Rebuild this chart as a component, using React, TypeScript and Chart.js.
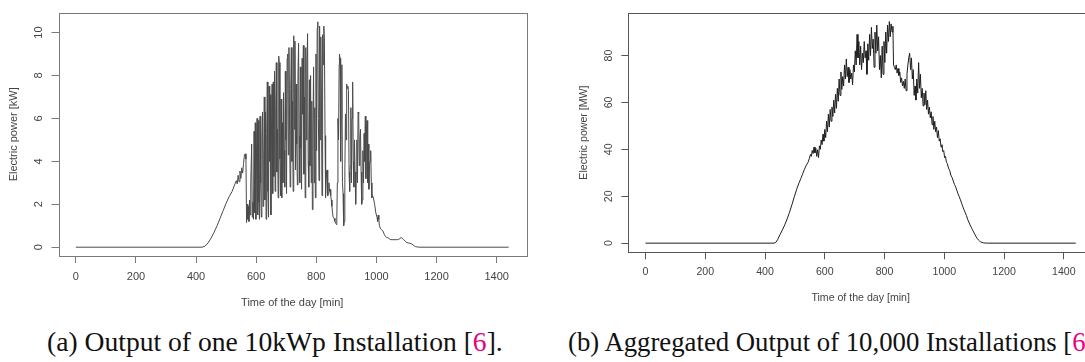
import React, { useEffect, useRef } from "react";
import { Chart, registerables } from "chart.js";

Chart.register(...registerables);

// ---------- data ----------
const xTickValues = [0, 200, 400, 600, 800, 1000, 1200, 1400];
const leftYTicks = [0, 2, 4, 6, 8, 10];
const rightYTicks = [0, 20, 40, 60, 80];

// (a) one 10 kWp installation: minute of the day, kW
const leftMinutes = [
  0, 420, 430, 440, 450, 460, 470, 480, 490, 500, 510, 520, 528, 534, 537, 540, 543, 546, 549, 552, 555, 558, 561, 564, 566,
  568, 570, 572, 574, 576, 578, 580, 582, 585, 587, 589, 591, 593, 595, 597, 599, 601, 603, 605, 607, 609, 611, 613, 615, 617, 619,
  621, 623, 625, 627, 629, 631, 633, 635, 637, 639, 641, 643, 645, 647, 649, 651, 653, 655,
  657, 659, 661, 663, 665, 667, 669, 671, 673, 675, 677, 679, 681, 683, 685, 687, 689, 691, 693, 695, 697, 699, 701, 703, 705,
  707, 709, 711, 713, 715, 717, 719, 721, 723, 725, 727, 729, 731, 733, 735,
  737, 739, 741, 743, 745, 747, 749, 751, 753, 755, 757, 759, 761, 763, 765, 767, 769, 771, 773, 775, 777, 779, 781, 783, 785,
  787, 789, 791, 793, 795, 797, 799, 801, 803, 805, 807, 809, 811, 813, 815, 817, 819, 821, 823, 825, 827, 829, 830,
  832, 834, 836, 838, 840, 842, 844, 846, 848, 850, 852, 854, 856, 859, 862, 865, 868, 870, 872, 874, 876, 877, 879, 881, 883,
  885, 887, 889, 891, 893, 895, 897, 899, 901, 903, 905, 907, 909, 911, 913, 915, 917, 919, 921, 923, 925, 927, 929, 931, 933,
  935, 937, 939, 941, 943, 945, 947, 949, 951, 953, 955, 957, 959, 961, 963, 965, 967, 969, 971, 973, 975, 977, 979, 981, 983,
  985, 987, 990, 994, 998, 1002, 1004, 1006, 1008, 1010, 1014, 1018, 1022, 1026, 1030, 1034, 1038, 1042, 1048, 1055, 1062,
  1070, 1076, 1082, 1086, 1090, 1095, 1100, 1106, 1112, 1118, 1124, 1130, 1136, 1145, 1440,
];
const leftPower = [
  0, 0, 0.05, 0.2, 0.42, 0.7, 1.0, 1.35, 1.7, 2.05, 2.35, 2.6, 2.9, 3.1, 2.95, 3.35, 3.05, 3.55, 3.2, 3.7, 3.45, 3.9, 4.3, 4.35, 4.1,
  1.15, 2.0, 1.3, 1.9, 1.2, 2.2, 1.5, 3.0, 4.8, 1.4, 2.1, 1.3, 5.4, 1.6, 5.8, 1.3, 4.2, 6.0, 1.5, 5.9, 2.1, 1.3, 6.1, 3.0, 1.4, 5.0,
  6.3, 1.9, 4.1, 7.0, 2.2, 6.3, 1.3, 5.3, 7.7, 2.6, 1.4, 7.5, 4.0, 7.1, 1.5, 5.6, 7.6, 2.5,
  7.7, 3.3, 8.2, 2.6, 6.6, 8.6, 3.5, 5.5, 2.3, 8.9, 8.6, 4.1, 2.4, 6.9, 2.3, 5.8, 3.0, 7.2, 4.5, 2.8, 8.2, 5.0, 2.5, 8.8, 9.0,
  4.3, 9.3, 6.0, 2.8, 7.4, 9.3, 4.0, 6.8, 2.6, 9.85, 5.5, 9.6, 3.6, 7.6, 4.8,
  2.9, 8.0, 9.5, 5.2, 3.0, 8.4, 4.6, 2.7, 8.8, 6.2, 9.4, 3.4, 7.0, 2.3, 9.3, 5.0, 8.5, 9.95, 4.0, 2.8, 7.8, 3.8, 8.0, 3.0, 6.8,
  1.75, 5.6, 8.4, 3.0, 6.5, 2.3, 9.0, 4.5, 10.2, 10.5, 6.0, 3.1, 10.3, 5.0, 9.8, 7.0, 2.4, 9.9, 8.5, 10.3, 9.6, 5.2, 2.3,
  2.5, 3.5, 3.6, 2.4, 2.5, 3.0, 2.6, 2.7, 2.4, 2.2, 1.9, 1.6, 1.4, 1.35, 1.2, 1.1, 1.05, 3.0, 6.0, 5.0, 8.5, 9.0, 8.8, 4.0, 6.0,
  8.5, 3.0, 2.5, 1.0, 1.2, 3.5, 6.2, 5.0, 7.6, 7.4, 7.5, 7.3, 3.5, 2.6, 3.8, 6.5, 3.0, 6.0, 7.7, 4.0, 2.8, 5.0, 3.5, 2.0, 3.5,
  5.0, 3.0, 6.3, 6.2, 3.8, 5.0, 5.5, 3.5, 2.0, 2.2, 4.5, 3.0, 5.3, 4.0, 6.1, 3.2, 5.6, 5.9, 3.0, 4.8, 2.7, 3.8, 4.0, 4.5, 3.0,
  2.3, 2.4, 2.3, 2.0, 1.6, 1.4, 1.2, 1.5, 1.3, 1.0, 0.85, 0.8, 0.75, 0.6, 0.5, 0.45, 0.45, 0.4, 0.35, 0.35, 0.35,
  0.35, 0.38, 0.45, 0.42, 0.35, 0.3, 0.22, 0.2, 0.18, 0.15, 0.08, 0.03, 0.01, 0, 0,
];

// (b) aggregated 10,000 installations: minute of the day, MW
const rightMinutes = [
  0, 430, 436, 442, 450, 458, 466, 474, 482, 490, 498, 506, 514, 520, 526, 532, 538, 544, 548, 552, 555, 558, 561, 564, 567,
  570, 573, 576, 579, 582, 585, 588, 591, 594, 597, 600, 603, 606, 609, 612, 615, 618, 621, 624, 627, 630, 633, 636, 639, 642,
  645, 648, 651, 654, 657, 660, 663, 666, 669, 672, 675, 678, 681, 684, 687, 690, 693, 696, 699, 702, 705, 708, 711, 714, 717,
  720, 723, 726, 729, 732, 735, 738, 741, 744, 747, 750, 753, 756, 759, 762, 765, 768, 771, 774, 777, 780, 783, 786, 789, 792,
  795, 798, 801, 804, 807, 810, 813, 816, 819, 822, 825, 828, 830, 833, 836, 839, 842, 845, 848, 851, 854, 857, 860, 863, 866,
  869, 872, 875, 878, 881, 884, 887, 890, 893, 896, 899, 902, 905, 908, 911, 914, 917, 920, 923, 926, 929, 932, 935, 938, 941,
  944, 947, 950, 953, 956, 959, 962, 965, 968, 971, 974, 977, 980, 983, 986, 989, 992, 995, 998, 1001, 1004, 1007, 1010, 1014,
  1018, 1022, 1026, 1030, 1034, 1038, 1042, 1046, 1050, 1054, 1058, 1062, 1066, 1070, 1074, 1078, 1082, 1086, 1090, 1094, 1098,
  1102, 1106, 1110, 1114, 1118, 1122, 1126, 1130, 1136, 1145, 1440,
];
const rightPower = [
  0, 0, 0.3, 1.5, 3.6, 5.6, 7.8, 10.3, 13.2, 16.4, 19.8, 23.0, 25.8, 27.6, 29.6, 31.5, 33.2, 34.5, 36.0, 37.8, 37.0, 39.5, 38.2, 41.0, 38.5,
  40.5, 37.0, 39.8, 36.5, 41.5, 40.0, 44.0, 42.0, 46.5, 43.5, 48.5, 45.0, 52.0, 47.5, 55.0, 49.5, 57.0, 52.0, 58.0, 54.0, 61.0, 55.5, 63.5, 57.5, 66.0,
  60.5, 70.0, 63.0, 73.0, 65.5, 71.0, 67.0, 76.0, 70.0, 78.5, 71.0, 75.0, 68.5, 74.0, 70.0, 72.5, 67.5, 76.0, 73.0, 82.0, 76.0, 89.0, 79.0, 86.0, 76.0,
  84.0, 74.0, 81.0, 77.0, 86.0, 79.0, 82.0, 72.0, 85.0, 78.0, 89.0, 80.0, 92.0, 83.0, 87.0, 75.0, 90.0, 81.0, 93.0, 82.0, 88.0, 74.0, 80.0, 70.5, 84.0,
  72.0, 86.0, 77.0, 90.0, 81.0, 93.0, 86.0, 94.5, 88.0, 93.5, 90.0, 92.5, 76.0, 75.0, 74.0, 76.0, 72.5, 74.5, 71.5, 73.0, 68.5, 70.5, 67.0, 69.0, 66.0,
  70.0, 65.0, 72.0, 76.0, 79.0, 81.0, 74.0, 79.0, 70.0, 74.0, 63.0, 67.0, 61.0, 70.0, 64.0, 77.0, 66.0, 72.0, 62.0, 66.0, 58.5, 64.0, 59.0, 65.0, 57.0,
  61.0, 55.0, 58.0, 53.5, 56.0, 50.5, 54.0, 48.5, 52.0, 47.5, 49.5, 45.0, 48.0, 43.5, 44.5, 41.0, 42.0, 39.0, 39.5, 36.5, 37.0, 34.5, 34.0, 32.0,
  31.0, 29.0, 28.0, 26.5, 25.0, 24.0, 22.5, 21.0, 19.8, 18.5, 17.0, 15.5, 14.2, 13.0, 11.8, 10.2, 9.0, 7.8, 6.8, 5.8, 4.8,
  3.8, 2.8, 2.0, 1.4, 0.9, 0.5, 0.3, 0.15, 0.05, 0, 0,
];

const xTitle = "Time of the day [min]";
const leftYTitle = "Electric power [kW]";
const rightYTitle = "Electric power [MW]";

// ---------- helpers ----------
const boxPlugin = (color: string) => ({
  id: "rbox",
  afterDraw(chart: any) {
    const { ctx, chartArea } = chart;
    ctx.save();
    ctx.strokeStyle = color;
    ctx.lineWidth = 1;
    ctx.strokeRect(
      Math.round(chartArea.left) + 0.5,
      Math.round(chartArea.top) + 0.5,
      Math.round(chartArea.right - chartArea.left),
      Math.round(chartArea.bottom - chartArea.top)
    );
    ctx.restore();
  },
});

type Cfg = {
  minutes: number[];
  values: number[];
  yTicks: number[];
  yMin: number;
  yMax: number;
  yTitle: string;
  lineColor: string;
  axisColor: string;
  textColor: string;
  fontSize: number;
  yAxisWidth: number;
  padLeft: number;
  padRight: number;
  padTop: number;
  xAxisHeight: number;
  yTickPad: number;
  xTickPad: number;
  yTitlePad: number;
  xTitlePad: number;
};

function makeChart(canvas: HTMLCanvasElement, c: Cfg) {
  const points = c.minutes.map((m, i) => ({ x: m, y: c.values[i] }));
  const font = { family: "'Liberation Sans', Arial, sans-serif", size: c.fontSize };
  return new Chart(canvas, {
    type: "line",
    data: {
      datasets: [
        {
          data: points,
          borderColor: c.lineColor,
          borderWidth: 1,
          pointRadius: 0,
          tension: 0,
          fill: false,
        },
      ],
    },
    options: {
      animation: false,
      responsive: false,
      devicePixelRatio: 1,
      layout: { padding: { left: c.padLeft, right: c.padRight, top: c.padTop, bottom: 0 } },
      plugins: { legend: { display: false }, tooltip: { enabled: false } },
      scales: {
        x: {
          type: "linear",
          min: -57.6,
          max: 1497.6,
          afterBuildTicks: (s: any) => {
            s.ticks = xTickValues.map((v) => ({ value: v }));
          },
          afterFit: (s: any) => {
            s.height = c.xAxisHeight;
          },
          border: { display: false },
          grid: { drawOnChartArea: false, drawTicks: true, tickLength: 7, color: c.axisColor, lineWidth: 1 },
          ticks: {
            autoSkip: false,
            maxRotation: 0,
            minRotation: 0,
            padding: c.xTickPad,
            color: c.textColor,
            font,
            callback: (v: any) => String(v),
          },
          title: { display: true, text: xTitle, color: c.textColor, font, padding: { top: 0, bottom: c.xTitlePad } },
        },
        y: {
          type: "linear",
          min: c.yMin,
          max: c.yMax,
          afterBuildTicks: (s: any) => {
            s.ticks = c.yTicks.map((v) => ({ value: v }));
          },
          afterFit: (s: any) => {
            s.width = c.yAxisWidth;
          },
          border: { display: false },
          grid: { drawOnChartArea: false, drawTicks: true, tickLength: 7, color: c.axisColor, lineWidth: 1 },
          ticks: {
            autoSkip: false,
            minRotation: 90,
            maxRotation: 90,
            crossAlign: "center",
            padding: c.yTickPad,
            color: c.textColor,
            font,
            callback: (v: any) => String(v),
          },
          title: { display: true, text: c.yTitle, color: c.textColor, font, padding: { top: c.yTitlePad, bottom: 0 } },
        },
      },
    } as any,
    plugins: [boxPlugin(c.axisColor)],
  });
}

export default function App() {
  const leftRef = useRef<HTMLCanvasElement>(null);
  const rightRef = useRef<HTMLCanvasElement>(null);

  useEffect(() => {
    const a = makeChart(leftRef.current!, {
      minutes: leftMinutes,
      values: leftPower,
      yTicks: leftYTicks,
      yMin: -0.41,
      yMax: 10.93,
      yTitle: leftYTitle,
      lineColor: "#4a4a4a",
      axisColor: "#7a7a7a",
      textColor: "#444444",
      fontSize: 11,
      yAxisWidth: 58.5,
      padLeft: 0,
      padRight: 19,
      padTop: 7.3,
      xAxisHeight: 59,
      yTickPad: 6,
      xTickPad: 7.4,
      yTitlePad: 7.2,
      xTitlePad: 5.4,
    });
    const b = makeChart(rightRef.current!, {
      minutes: rightMinutes,
      values: rightPower,
      yTicks: rightYTicks,
      yMin: -3.9,
      yMax: 98.2,
      yTitle: rightYTitle,
      lineColor: "#1e1e1e",
      axisColor: "#555555",
      textColor: "#444444",
      fontSize: 10.6,
      yAxisWidth: 83.3,
      padLeft: 0,
      padRight: 2,
      padTop: 7.3,
      xAxisHeight: 62.7,
      yTickPad: 6.5,
      xTickPad: 6.6,
      yTitlePad: 33.2,
      xTitlePad: 10.6,
    });
    return () => {
      a.destroy();
      b.destroy();
    };
  }, []);

  const captionStyle: React.CSSProperties = {
    position: "absolute",
    top: 327.5,
    fontFamily: "'Liberation Serif', 'Times New Roman', serif",
    fontSize: 28,
    lineHeight: "28px",
    color: "#111",
    whiteSpace: "nowrap",
    transformOrigin: "0 50%",
  };
  const cite: React.CSSProperties = { color: "#e6007e" };

  return (
    <div
      style={{
        position: "absolute",
        left: 0,
        top: 0,
        width: 1085,
        height: 362,
        overflow: "hidden",
        background: "#ffffff",
      }}
    >
      <canvas
        ref={leftRef}
        width={545}
        height={315}
        style={{ position: "absolute", left: 0, top: 0, width: 545, height: 315 }}
      />
      <canvas
        ref={rightRef}
        width={550}
        height={315}
        style={{ position: "absolute", left: 545, top: 0, width: 550, height: 315 }}
      />
      <div style={{ ...captionStyle, left: 47, transform: "scaleX(0.985)" }}>
        (a) Output of one 10kWp Installation [<span style={cite}>6</span>].
      </div>
      <div style={{ ...captionStyle, left: 568, transform: "scaleX(0.955)" }}>
        (b) Aggregated Output of 10,000 Installations [<span style={cite}>6</span>].
      </div>
    </div>
  );
}
